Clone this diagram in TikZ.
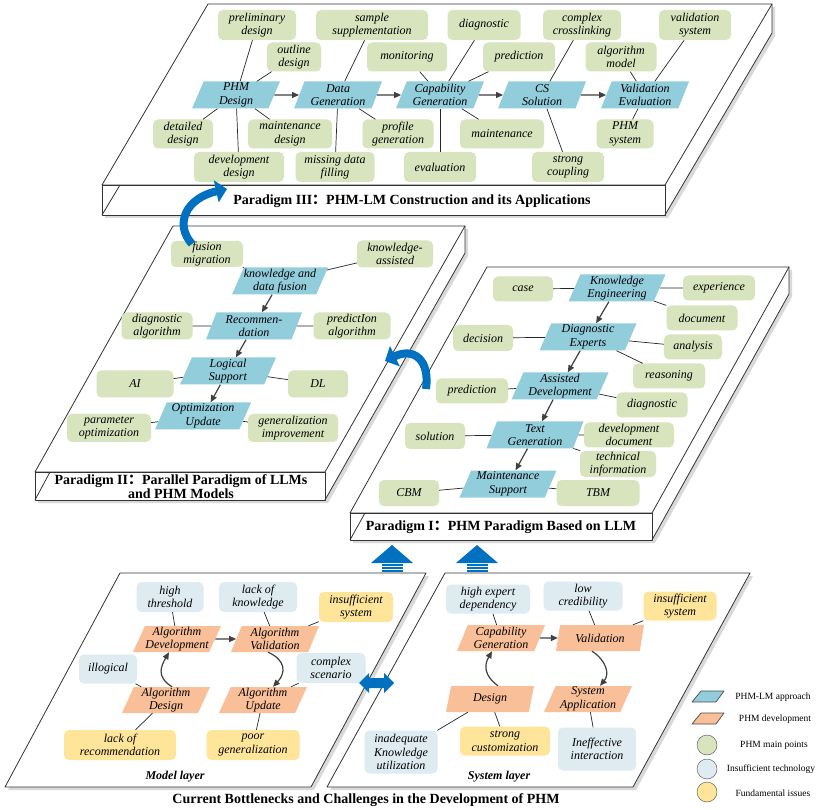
\documentclass[tikz,border=0pt]{standalone}
\usepackage{fontspec}
\setmainfont{Liberation Serif}
\newfontfamily\cjkfont{Noto Sans CJK SC}
\usetikzlibrary{shapes.geometric,arrows.meta,shadows}
\definecolor{pgreen}{HTML}{D7E4BD}
\definecolor{pblue}{HTML}{92CDDC}
\definecolor{porange}{HTML}{F8BF98}
\definecolor{plblue}{HTML}{DEEBF0}
\definecolor{pyellow}{HTML}{FEE59A}
\definecolor{abl}{HTML}{0070C0}
\definecolor{abld}{HTML}{005A9E}
\tikzset{
 nfont/.style={font=\itshape\fontsize{12}{13.5}\selectfont},
 gbox/.style={nfont, fill=pgreen, rounded corners=5pt, align=center, inner sep=0pt},
 lbox/.style={gbox, fill=plblue},
 ybox/.style={gbox, fill=pyellow},
 para/.style={nfont, trapezium, trapezium left angle=64, trapezium right angle=116, trapezium stretches body, minimum width=88pt, minimum height=27pt, inner xsep=-8pt, inner ysep=0pt, align=center, fill=pblue},
 opara/.style={para, fill=porange, minimum height=26pt},
 link/.style={draw=black!85, line width=0.7pt},
 flow/.style={draw=black!75, line width=1.2pt, -{Triangle[length=7pt,width=6pt]}},
 panel/.style={draw=black!80, line width=0.8pt, line join=round},
 pshadow/.style={fill=white, drop shadow={shadow xshift=3pt, shadow yshift=-3pt, opacity=0.3}},
 ptitle/.style={font=\bfseries\fontsize{14}{12.5}\selectfont, align=center},
 ltext/.style={font=\fontsize{9.5}{11}\selectfont},
 curv/.style={line width=8pt, draw=abl, -{Triangle[length=11pt,width=22pt]}},
 swatch/.style={draw=black!70, line width=0.7pt, line join=round},
}
\begin{document}
\begin{tikzpicture}[x=1pt,y=-1pt]
\useasboundingbox (0,0) rectangle (828,810);
% ---------------- Paradigm III slab
\path[pshadow] (208,4) -- (772,4) -- (772,33) -- (665,215) -- (102,215) -- (102,185) -- cycle;
\draw[panel] (208,4) -- (772,4) -- (665,185) -- (102,185) -- cycle;
\draw[panel] (102,185) rectangle (665,215);
\draw[panel] (772,4) -- (772,33) -- (665,215);
\draw[panel] (102,215) -- (120,185);
% ---------------- Paradigm II slab
\path[pshadow] (173,226) -- (465,226) -- (465,253) -- (325,500) -- (35,500) -- (35,472) -- cycle;
\draw[panel] (173,226) -- (465,226) -- (325,472) -- (35,472) -- cycle;
\draw[panel] (35,472) rectangle (325,500);
\draw[panel] (465,226) -- (465,253) -- (325,500);
\draw[panel] (35,500) -- (50,472);
% ---------------- Paradigm I slab
\path[pshadow] (487,267) -- (789,267) -- (789,294) -- (652,540) -- (350,540) -- (350,513) -- cycle;
\draw[panel] (487,267) -- (789,267) -- (652,513) -- (350,513) -- cycle;
\draw[panel] (350,513) rectangle (652,540);
\draw[panel] (789,267) -- (789,294) -- (652,540);
\draw[panel] (350,540) -- (365,513);
% ---------------- bottom layers
\path[pshadow] (120,573) -- (426,573) -- (311,787) -- (5,787) -- cycle;
\draw[panel] (120,573) -- (426,573) -- (311,787) -- (5,787) -- cycle;
\path[pshadow] (445,573) -- (750,573) -- (633,787) -- (327,787) -- cycle;
\draw[panel] (445,573) -- (750,573) -- (633,787) -- (327,787) -- cycle;

% ================= Paradigm III content
\node[para] (pd) at (236,95) {PHM\\Design};
\node[para] (dg) at (338,95) {Data\\Generation};
\node[para] (cg) at (440,95) {Capability\\Generation};
\node[para] (cs) at (542,95) {CS\\Solution};
\node[para] (ve) at (645,95) {Validation\\Evaluation};
\node[gbox, minimum width=78pt, minimum height=30pt] (prelim) at (257,25) {preliminary\\design};
\node[gbox, minimum width=54pt, minimum height=29pt] (outline) at (294,57) {outline\\design};
\node[gbox, minimum width=112pt, minimum height=30pt] (sample) at (372,25) {sample\\supplementation};
\node[gbox, minimum width=80pt, minimum height=29pt] (monit) at (407,57) {monitoring};
\node[gbox, minimum width=73pt, minimum height=30pt] (diag3) at (484,25) {diagnostic};
\node[gbox, minimum width=72pt, minimum height=29pt] (pred3) at (519,57) {prediction};
\node[gbox, minimum width=78pt, minimum height=30pt] (cross) at (582,25) {complex\\crosslinking};
\node[gbox, minimum width=71pt, minimum height=29pt] (algm) at (621,57) {algorithm\\model};
\node[gbox, minimum width=72pt, minimum height=30pt] (valsys) at (695,25) {validation\\system};
\node[gbox, minimum width=60pt, minimum height=29pt] (detail) at (183,134) {detailed\\design};
\node[gbox, minimum width=84pt, minimum height=29pt] (maintd) at (290,134) {maintenance\\design};
\node[gbox, minimum width=90pt, minimum height=30pt] (devd) at (239,167) {development\\design};
\node[gbox, minimum width=71pt, minimum height=29pt] (profile) at (398,134) {profile\\generation};
\node[gbox, minimum width=79pt, minimum height=30pt] (missing) at (335,167) {missing data\\filling};
\node[gbox, minimum width=72pt, minimum height=30pt] (evalu) at (440,167) {evaluation};
\node[gbox, minimum width=84pt, minimum height=29pt] (maint3) at (502,134) {maintenance};
\node[gbox, minimum width=72pt, minimum height=30pt] (strongc) at (568,167) {strong\\coupling};
\node[gbox, minimum width=57pt, minimum height=29pt] (phmsys) at (625,134) {PHM\\system};
\foreach \a/\b in {prelim/pd,outline/pd,detail/pd,maintd/pd,devd/pd,sample/dg,profile/dg,missing/dg,monit/cg,diag3/cg,pred3/cg,maint3/cg,evalu/cg,cross/cs,strongc/cs,algm/ve,valsys/ve,phmsys/ve}
  \draw[link] (\a) -- (\b);
\draw[flow] (pd) -- (dg);
\draw[flow] (dg) -- (cg);
\draw[flow] (cg) -- (cs);
\draw[flow] (cs) -- (ve);
\node[ptitle] (t3) at (412,201) {Paradigm III{\cjkfont ：}PHM-LM Construction and its Applications};

% ================= Paradigm II content
\node[para, minimum width=96pt] (kdf) at (280,281) {knowledge and\\data fusion};
\node[para, minimum width=96pt] (rec) at (254,326) {Recommen-\\dation};
\node[para, minimum width=96pt] (logs) at (228,371) {Logical\\Support};
\node[para, minimum width=96pt] (opt) at (203,416) {Optimization\\Update};
\node[gbox, minimum width=72pt, minimum height=26pt] (fm) at (207,254) {fusion\\migration};
\node[gbox, minimum width=76pt, minimum height=27pt] (ka) at (395,254) {knowledge-\\assisted};
\node[gbox, minimum width=71pt, minimum height=27pt] (dalg) at (157,326) {diagnostic\\algorithm};
\node[gbox, minimum width=77pt, minimum height=27pt] (palg) at (352,326) {predictIon\\algorithm};
\node[gbox, minimum width=77pt, minimum height=27pt] (ai) at (135,384) {AI};
\node[gbox, minimum width=60pt, minimum height=27pt] (dl) at (318,384) {DL};
\node[gbox, minimum width=84pt, minimum height=28pt] (po) at (109,428) {parameter\\optimization};
\node[gbox, minimum width=90pt, minimum height=28pt] (gi) at (293,428) {generalization\\improvement};
\foreach \a/\b in {fm/kdf,ka/kdf,dalg/rec,palg/rec,ai/logs,dl/logs,po/opt,gi/opt}
  \draw[link] (\a) -- (\b);
\draw[flow] (kdf) -- (rec);
\draw[flow] (rec) -- (logs);
\draw[flow] (logs) -- (opt);
\node[ptitle] (t2) at (181,487) {Paradigm II{\cjkfont ：}Parallel Paradigm of LLMs\\and PHM Models};

% ================= Paradigm I content
\node[para, minimum width=97pt] (ke) at (617,288) {Knowledge\\Engineering};
\node[para, minimum width=97pt] (de) at (588,337) {Diagnostic\\Experts};
\node[para, minimum width=97pt] (ad) at (560,386) {Assisted\\Development};
\node[para, minimum width=97pt] (tg) at (535,435) {Text\\Generation};
\node[para, minimum width=97pt] (ms) at (508,484) {Maintenance\\Support};
\node[gbox, minimum width=60pt, minimum height=25pt] (case) at (523,289) {case};
\node[gbox, minimum width=72pt, minimum height=25pt] (exper) at (719,288) {experience};
\node[gbox, minimum width=71pt, minimum height=25pt] (docu) at (702,318) {document};
\node[gbox, minimum width=60pt, minimum height=26pt] (decis) at (483,338) {decision};
\node[gbox, minimum width=58pt, minimum height=25pt] (analy) at (693,347) {analysis};
\node[gbox, minimum width=72pt, minimum height=25pt] (reason) at (669,376) {reasoning};
\node[gbox, minimum width=72pt, minimum height=25pt] (pred1) at (472,391) {prediction};
\node[gbox, minimum width=71pt, minimum height=25pt] (diag1) at (652,405) {diagnostic};
\node[gbox, minimum width=60pt, minimum height=26pt] (solu) at (435,436) {solution};
\node[gbox, minimum width=90pt, minimum height=25pt] (devdoc) at (629,435) {development\\document};
\node[gbox, minimum width=76pt, minimum height=26pt] (techi) at (618,464) {technical\\information};
\node[gbox, minimum width=60pt, minimum height=26pt] (cbm) at (409,493) {CBM};
\node[gbox, minimum width=83pt, minimum height=26pt] (tbm) at (598,493) {TBM};
\foreach \a/\b in {case/ke,exper/ke,docu/ke,decis/de,analy/de,reason/de,pred1/ad,diag1/ad,solu/tg,devdoc/tg,techi/tg,cbm/ms,tbm/ms}
  \draw[link] (\a) -- (\b);
\draw[flow] (ke) -- (de);
\draw[flow] (de) -- (ad);
\draw[flow] (ad) -- (tg);
\draw[flow] (tg) -- (ms);
\node[ptitle] (t1) at (501,527) {Paradigm I{\cjkfont ：}PHM Paradigm Based on LLM};

% ================= Model layer
\node[opara] (adev) at (177,639) {Algorithm\\Development};
\node[opara] (aval) at (275,639) {Algorithm\\Validation};
\node[opara] (ades) at (166,700) {Algorithm\\Design};
\node[opara] (aupd) at (263,700) {Algorithm\\Update};
\node[lbox, minimum width=67pt, minimum height=30pt] (hth) at (170,597) {high\\threshold};
\node[lbox, minimum width=78pt, minimum height=30pt] (lok) at (258,597) {lack of\\knowledge};
\node[lbox, minimum width=58pt, minimum height=29pt] (ill) at (108,669) {illogical};
\node[lbox, minimum width=69pt, minimum height=30pt] (csc) at (331,668) {complex\\scenario};
\node[ybox, minimum width=74pt, minimum height=30pt] (isys1) at (356,607) {insufficient\\system};
\node[ybox, minimum width=112pt, minimum height=30pt] (lor) at (120,745) {lack of\\recommendation};
\node[ybox, minimum width=93pt, minimum height=30pt] (pgen) at (253,745) {poor\\generalization};
\foreach \a/\b in {hth/adev,lok/aval,isys1/aval,ill/ades,csc/aupd,lor/ades,pgen/aupd}
  \draw[link] (\a) -- (\b);
\draw[flow] (adev) -- (aval);
\draw[flow] ([xshift=6pt]ades.north) .. controls +(-16,-10) and +(-8,14) .. ([xshift=-8pt]adev.south);
\draw[flow] ([xshift=-7pt]aval.south) .. controls +(18,8) and +(13,-14) .. ([xshift=10pt]aupd.north);
\node[font=\bfseries\itshape\fontsize{12}{14}\selectfont] (mlab) at (175,777) {Model layer};

% ================= System layer
\node[opara] (scg) at (501,638) {Capability\\Generation};
\node[opara] (sval) at (600,638) {Validation};
\node[opara] (sdes) at (490,699) {Design};
\node[opara] (sapp) at (588,699) {System\\Application};
\node[lbox, minimum width=84pt, minimum height=29pt] (hed) at (488,599) {high expert\\dependency};
\node[lbox, minimum width=79pt, minimum height=29pt] (lcr) at (583,596) {low\\credibility};
\node[lbox, minimum width=73pt, minimum height=43pt] (ikn) at (401,752) {inadequate\\Knowledge\\utilization};
\node[lbox, minimum width=78pt, minimum height=43pt] (ief) at (597,749) {Ineffective\\interaction};
\node[ybox, minimum width=73pt, minimum height=29pt] (isys2) at (680,606) {insufficient\\system};
\node[ybox, minimum width=90pt, minimum height=29pt] (scu) at (505,741) {strong\\customization};
\foreach \a/\b in {hed/scg,lcr/sval,isys2/sval,ikn/sdes,scu/sdes,ief/sapp}
  \draw[link] (\a) -- (\b);
\draw[flow] (scg) -- (sval);
\draw[flow] ([xshift=8pt]sdes.north) .. controls +(-14,-10) and +(-8,14) .. ([xshift=-9pt]scg.south);
\draw[flow] ([xshift=-8pt]sval.south) .. controls +(14,9) and +(10,-12) .. ([xshift=12pt]sapp.north);
\node[font=\bfseries\itshape\fontsize{12}{14}\selectfont] (slab) at (499,777) {System layer};

\node[ptitle] (tb) at (366,800) {Current Bottlenecks and Challenges in the Development of PHM};

% ================= blue arrows
\fill[abl] (392,545) -- (413,563) -- (371,563) -- cycle;
\foreach \yy in {564.3,567.1,569.9} \fill[abl] (382,\yy) rectangle (403,\yy+1.8);
\fill[abl] (477,545) -- (498,563) -- (456,563) -- cycle;
\foreach \yy in {564.3,567.1,569.9} \fill[abl] (467,\yy) rectangle (488,\yy+1.8);
\fill[abl] (359,683) -- (369,673) -- (369,678) -- (384,678) -- (384,673) -- (394,683) -- (384,693) -- (384,688) -- (369,688) -- (369,693) -- cycle;
\draw[curv] (192,244) .. controls (174,224) and (186,198) .. (227,189);
\draw[curv] (426,389) .. controls (430,360) and (414,347) .. (385,361);

% ================= legend
\filldraw[swatch, fill=pblue] (701,691) -- (724,691) -- (716,702) -- (692,702) -- cycle;
\filldraw[swatch, fill=porange] (701,713) -- (724,713) -- (716,724) -- (692,724) -- cycle;
\node[circle, minimum size=20pt, inner sep=0pt, fill=pgreen, draw=black!70] (lg3) at (707,745) {};
\node[circle, minimum size=20pt, inner sep=0pt, fill=plblue, draw=black!70] (lg4) at (707,769) {};
\node[circle, minimum size=20pt, inner sep=0pt, fill=pyellow, draw=black!70] (lg5) at (707,792) {};
\node[ltext] (lt1) at (773,697) {PHM-LM approach};
\node[ltext] (lt2) at (775,719) {PHM development};
\node[ltext] (lt3) at (774,745) {PHM main points};
\node[ltext] (lt4) at (771,769) {Insufficient technology};
\node[ltext] (lt5) at (773,793) {Fundamental issues};
\end{tikzpicture}
\end{document}
